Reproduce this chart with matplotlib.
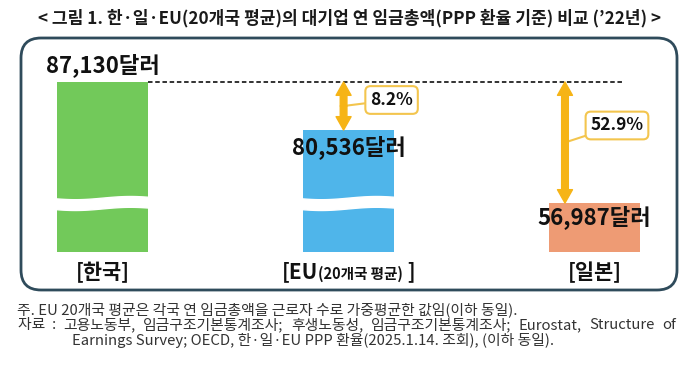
import numpy as np
import matplotlib
matplotlib.use("Agg")
import matplotlib.pyplot as plt
from matplotlib.patches import FancyBboxPatch
from matplotlib.offsetbox import TextArea, HPacker, AnnotationBbox

plt.rcParams['font.family'] = ['Noto Sans CJK KR', 'DejaVu Sans']

# data
countries = ["한국", "EU", "일본"]
wages = [87130, 80536, 56987]
gap_pct = [None, "8.2%", "52.9%"]
colors = ["#72c95a", "#4fb5ea", "#ee9b74"]
orange = "#f6b416"

title = "< 그림 1. 한·일·EU(20개국 평균)의 대기업 연 임금총액(PPP 환율 기준) 비교 (’22년) >"
note1 = "주. EU 20개국 평균은 각국 연 임금총액을 근로자 수로 가중평균한 값임(이하 동일)."
note2a = "자료  :"
note2b = "고용노동부, 임금구조기본통계조사; 후생노동성, 임금구조기본통계조사; Eurostat, Structure of"
note3 = "Earnings Survey; OECD, 한·일·EU PPP 환율(2025.1.14. 조회), (이하 동일)."

# broken (not to scale) value axis, like the original infographic
scale_v = [0, 56987, 80536, 87130, 100000]
scale_h = [0, 49, 122, 170, 200]


def fwd(v):
    return np.interp(v, scale_v, scale_h)


def inv(h):
    return np.interp(h, scale_h, scale_v)


fig = plt.figure(figsize=(7, 3.68), dpi=100)

# rounded frame
frame = FancyBboxPatch((0.21, 0.78), 6.56, 2.52,
                       boxstyle="round,pad=0,rounding_size=0.2",
                       transform=fig.dpi_scale_trans, fc="none",
                       ec="#2f4b5b", lw=2.0)
fig.patches.append(frame)

fig.text(0.5, 1 - 18 / 368, title, ha="center", va="center",
         fontsize=12.3, fontweight="bold", color="#1a1a1a")

ax = fig.add_axes([16.4 / 700, (368 - 252) / 368, 664.2 / 700, 200 / 368])
ax.set_yscale("function", functions=(fwd, inv))
ax.set_ylim(0, 100000)
ax.set_xlim(-0.35, 2.35)
ax.axis("off")

x = np.arange(len(countries))
w = 0.37
ax.bar(x, wages, width=w, color=colors, zorder=2)

# white wavy break through the tall bars
trans = ax.get_xaxis_transform()
for i in range(2):
    xs = np.linspace(x[i] - w / 2 - 0.01, x[i] + w / 2 + 0.01, 60)
    wave = 0.008 * np.sin((xs - x[i]) * 14)
    ax.fill_between(xs, 0.218 + wave, 0.272 + wave, color="white",
                    transform=trans, zorder=3)

# dashed reference line at Korea's level
ax.plot([x[0] + w / 2, 2.116], [wages[0], wages[0]], ls=(0, (2.5, 1.5)),
        color="#222222", lw=1.3, zorder=2)

# value labels
offs = [12, -12, -10]
for i in range(3):
    ax.annotate(f"{wages[i]:,}달러", (x[i], wages[i]), xytext=(0, offs[i]),
                textcoords="offset points", ha="center", va="center",
                fontsize=16, fontweight="bold", color="#111111", zorder=5)

# gap arrows with percentage callouts
arrow_x = [None, 0.98, 1.88]
box_off = [None, (48, 6), (52, 17)]
for i in [1, 2]:
    mid = inv((fwd(wages[0]) + fwd(wages[i])) / 2)
    ax.annotate(gap_pct[i], (arrow_x[i], mid),
                xytext=box_off[i], textcoords="offset pixels",
                ha="center", va="center", fontsize=12.5, fontweight="bold",
                color="#111111",
                bbox=dict(boxstyle="round,pad=0.28,rounding_size=0.3",
                          fc="white", ec="#f3c54e", lw=1.5),
                arrowprops=dict(arrowstyle="-", color="#f3c54e", lw=1.5,
                                shrinkA=0, shrinkB=0), zorder=4)
    for end in [wages[0], wages[i]]:
        ax.annotate("", (arrow_x[i], end), xytext=(arrow_x[i], mid),
                    arrowprops=dict(arrowstyle="simple,head_length=0.8,head_width=0.9,tail_width=0.4",
                                    color=orange, shrinkA=0, shrinkB=0,
                                    mutation_scale=12), zorder=6)

# category labels
big = dict(fontsize=15, fontweight="bold", color="#111111")
small = dict(fontsize=10.5, fontweight="bold", color="#111111")
ax.annotate(f"[{countries[0]}]", (x[0], 0), xytext=(0, -14.5),
            textcoords="offset points", ha="center", va="center", **big)
ax.annotate(f"[{countries[2]}]", (x[2], 0), xytext=(0, -14.5),
            textcoords="offset points", ha="center", va="center", **big)
eu_lbl = HPacker(children=[TextArea("[" + countries[1], textprops=big),
                           TextArea("(20개국 평균)", textprops=small),
                           TextArea(" ]", textprops=big)],
                 align="baseline", pad=0, sep=0)
ax.add_artist(AnnotationBbox(eu_lbl, (x[1], 0), xybox=(0, -14.5),
                             boxcoords="offset points", frameon=False,
                             box_alignment=(0.5, 0.5)))

# notes
note_kw = dict(ha="left", va="center", fontsize=10.7, color="#333333")
fig.text(17 / 700, 1 - 310 / 368, note1, **note_kw)
fig.text(18 / 700, 1 - 325 / 368, note2a, **note_kw)
fig.text(72 / 700, 1 - 340 / 368, note3, **note_kw)

# second source line is justified between x=63 and x=676 px
words = note2b.split(" ")
renderer = fig.canvas.get_renderer()
items = [fig.text(0, 1 - 325 / 368, wd, **note_kw) for wd in words]
widths = [t.get_window_extent(renderer).width for t in items]
gap = (613 - sum(widths)) / (len(words) - 1)
pos = 63
for t, wd in zip(items, widths):
    t.set_x(pos / 700)
    pos += wd + gap

fig.savefig("out.png", dpi=100)
